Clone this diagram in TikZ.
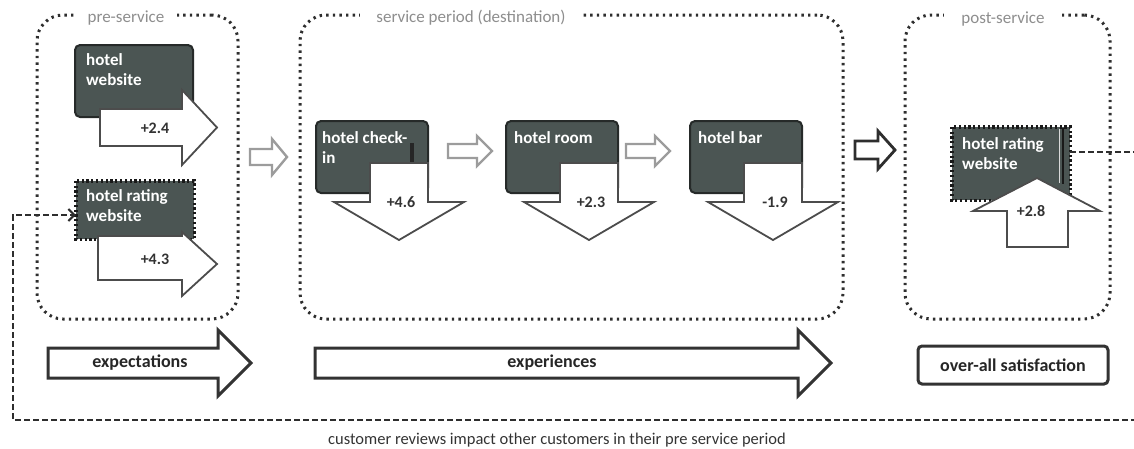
\documentclass[tikz,border=0pt]{standalone}
\usepackage{fontspec}
\setmainfont{Carlito}
\usetikzlibrary{arrows.meta,calc}

\definecolor{boxfill}{HTML}{4B5553}
\definecolor{boxedge}{HTML}{262A29}
\definecolor{dotc}{HTML}{2E2E2E}
\definecolor{labelgray}{HTML}{8E8E8E}
\definecolor{flowgray}{HTML}{9C9C9C}

\tikzset{
  phase/.style={draw=dotc, line width=3pt, dash pattern=on 2.4pt off 4.2pt,
    rounded corners=26pt},
  phaselabel/.style={fill=white, text=labelgray, font=\fontsize{17}{20}\selectfont,
    inner ysep=2pt},
  touch/.style={fill=boxfill, draw=boxedge, line width=2pt, rounded corners=5pt},
  touchdot/.style={fill=boxfill, inner sep=0pt},
  dotedge/.style={draw=black!90, line width=3.4pt, dash pattern=on 2.2pt off 2.6pt},
  touchtext/.style={text=white, font=\bfseries\fontsize{17}{20}\selectfont,
    align=left, anchor=north west, inner sep=0pt},
  callout/.style={fill=white, draw=black!70, line width=1.8pt, line join=miter},
  score/.style={font=\bfseries\fontsize{16}{18}\selectfont, text=black!80, inner sep=1.5pt},
  flow/.style={draw=flowgray, line width=2.4pt, fill=white, line join=miter},
  flowdark/.style={flow, draw=dotc, line width=2.8pt},
  stage/.style={fill=white, draw=black!80, line width=3pt, line join=miter},
  stagetext/.style={font=\bfseries\fontsize{18}{20}\selectfont, text=black!85},
  feedback/.style={draw=dotc, line width=2.2pt, dash pattern=on 6pt off 3pt},
}

\begin{document}
\begin{tikzpicture}[x=1pt,y=-1pt]
\useasboundingbox (0,0) rectangle (1134,448);

% the three phases
\node[phase, minimum width=201pt, minimum height=304pt] (pre)  at (137.5,167) {};
\node[phase, minimum width=543pt, minimum height=304pt] (svc)  at (571.5,167) {};
\node[phase, minimum width=205pt, minimum height=304pt] (post) at (1007.5,167) {};

\node[phaselabel, inner xsep=13pt] (prelbl)  at (126,18)  {pre-service};
\node[phaselabel, inner xsep=16pt] (svclbl)  at (471,18)  {service period (destination)};
\node[phaselabel, inner xsep=17pt] (postlbl) at (1003,19) {post-service};

% touchpoints
\node[touch, minimum width=118pt, minimum height=72pt] (web) at (134,81) {};
\node[touchtext] (webtxt) at (86,53) {hotel\\website};

\node[touchdot, minimum width=118pt, minimum height=58pt] (rate1) at (135,210) {};
\draw[dotedge] (rate1.north west) rectangle (rate1.south east);
\node[touchtext] (rate1txt) at (86,189) {hotel rating\\website};

\node[touch, minimum width=112pt, minimum height=72pt] (checkin) at (372,157) {};
\node[touchtext] (checkintxt) at (322,131) {hotel check-\\in};
\fill[black!85] (410,143) rectangle (413.5,167);

\node[touch, minimum width=112pt, minimum height=72pt] (room) at (562,157) {};
\node[touchtext] (roomtxt) at (514,131) {hotel room};

\node[touch, minimum width=112pt, minimum height=72pt] (bar) at (746,157) {};
\node[touchtext] (bartxt) at (698,131) {hotel bar};

\node[touchdot, minimum width=118pt, minimum height=73pt] (rate2) at (1011,163.5) {};
\draw[dotedge] (rate2.north west) rectangle (rate2.south east);
\node[touchtext] (rate2txt) at (962,137) {hotel rating\\website};
\draw[black!15, line width=1pt] (1059.5,129) -- (1059.5,183);
\draw[black!90, line width=2pt] (1063,128) -- (1063,184);

% ratings attached to each touchpoint
\draw[callout] (100,109) -- (182,109) -- (182,90) -- (217,127.5) -- (182,165)
  -- (182,146) -- (100,146) -- cycle;
\node[score] (s1) at (155,128) {+2.4};

\draw[callout] (98,236) -- (182,236) -- (182,232) -- (217,264) -- (182,296)
  -- (182,280) -- (98,280) -- cycle;
\node[score] (s2) at (155,259) {+4.3};

\draw[callout] (370,163) -- (428,163) -- (428,202) -- (464,202) -- (399,240)
  -- (334,202) -- (370,202) -- cycle;
\node[score] (s3) at (401,202) {+4.6};

\draw[callout] (560,163) -- (618,163) -- (618,202) -- (654,202) -- (589,240)
  -- (524,202) -- (560,202) -- cycle;
\node[score] (s4) at (591,202) {+2.3};

\draw[callout] (744,163) -- (802,163) -- (802,202) -- (838,202) -- (773,240)
  -- (708,202) -- (744,202) -- cycle;
\node[score] (s5) at (775,202) {-1.9};

\draw[callout] (1007,247) -- (1007,211) -- (973,211) -- (1037,178) -- (1100,211)
  -- (1068,211) -- (1068,247) -- cycle;
\node[score] (s6) at (1031,211) {+2.8};

% flow between phases and touchpoints
\draw[flow] (250,149) -- (272,149) -- (272,139) -- (287,157) -- (272,175)
  -- (272,165) -- (250,165) -- cycle;
\draw[flow] (448,144) -- (477,144) -- (477,136) -- (492,151) -- (477,166)
  -- (477,158) -- (448,158) -- cycle;
\draw[flow] (626,144) -- (655,144) -- (655,136) -- (670,151) -- (655,166)
  -- (655,158) -- (626,158) -- cycle;
\draw[flowdark] (855,141) -- (878,141) -- (878,131) -- (895,150) -- (878,169)
  -- (878,159) -- (855,159) -- cycle;

% what the guest brings and takes away
\draw[stage] (48,348) -- (218,348) -- (218,330) -- (251,363) -- (218,396)
  -- (218,378) -- (48,378) -- cycle;
\node[stagetext] (expect) at (140,363) {expectations};

\draw[stage] (315,348) -- (798,348) -- (798,330) -- (831,363) -- (798,396)
  -- (798,378) -- (315,378) -- cycle;
\node[stagetext] (exper) at (552,363) {experiences};

\node[stage, rounded corners=4pt, minimum width=190pt, minimum height=38pt,
  inner sep=0pt] (satis) at (1013,365) {};
\node[stagetext] (satistxt) at (satis.center) {over-all satisfaction};

% reviews feed back into the pre-service period
\coordinate (fbout) at (rate2.east |- 0,152);
\coordinate (fbr) at (1145,152);
\coordinate (fbrb) at (1145,420);
\coordinate (fblb) at (13,420);
\coordinate (fblt) at (13,215);
\draw[feedback, -{Straight Barb[length=6pt,width=12pt,line width=2pt]}]
  (fbout) -- (fbr) -- (fbrb) -- (fblb) -- (fblt) -- (rate1.west |- fblt);

\node[font=\fontsize{16.5}{18}\selectfont, text=black!80] (note) at (557,440)
  {customer reviews impact other customers in their pre service period};
\end{tikzpicture}
\end{document}
